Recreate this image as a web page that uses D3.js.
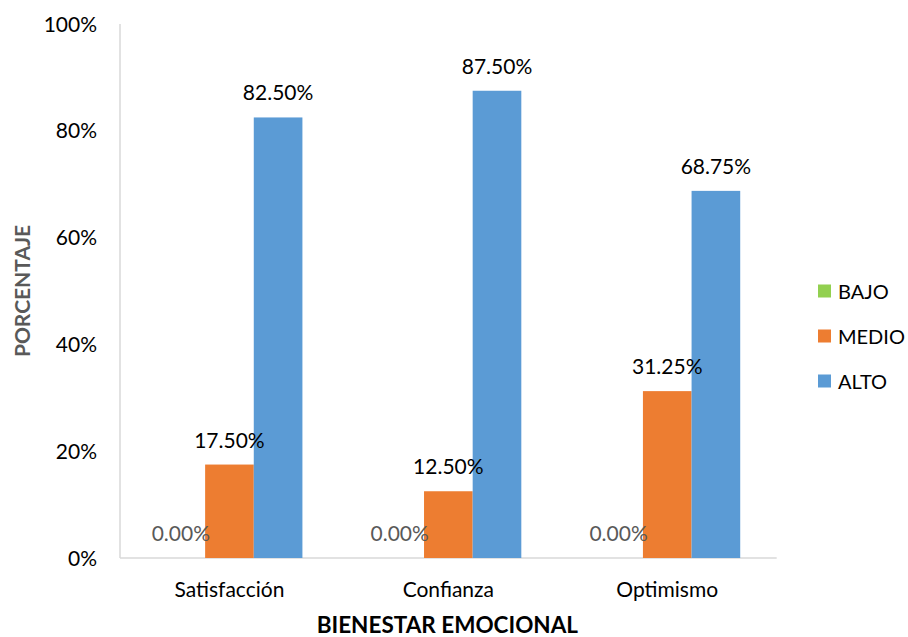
<!DOCTYPE html>
<html><head><meta charset="utf-8">
<script src="https://cdn.jsdelivr.net/npm/d3@7"></script>
<style>body{margin:0;background:#fff;} text{font-family:Lato,"Open Sans",sans-serif;}</style>
</head><body><svg id="c" width="908" height="637"></svg>
<script>
const categories = ["Satisfacción", "Confianza", "Optimismo"];
const seriesNames = ["BAJO", "MEDIO", "ALTO"];
const bajo = [0.0, 0.0, 0.0];
const medio = [0.175, 0.125, 0.3125];
const alto = [0.825, 0.875, 0.6875];
const yTicks = [0, 0.2, 0.4, 0.6, 0.8, 1.0];
const colors = ["#92D050", "#ED7D31", "#5B9BD5"];

const values = [bajo, medio, alto];
const svg = d3.select("#c");
const pLeft = 120, pRight = 776.7, pTop = 24, pBottom = 558;

const x0 = d3.scaleBand().domain(categories).range([pLeft, pRight]).padding(0);
const x1 = d3.scaleBand().domain(seriesNames).range([0, x0.bandwidth()]).paddingInner(0).paddingOuter(0.75);
const y = d3.scaleLinear().domain([0, 1]).range([pBottom, pTop]);
const fmt = d3.format(".2%");

// axes lines
svg.append("line").attr("x1", pLeft).attr("x2", pLeft).attr("y1", y(1)).attr("y2", pBottom)
  .attr("stroke", "#d9d9d9").attr("stroke-width", 1.5);
svg.append("line").attr("x1", pLeft).attr("x2", pRight).attr("y1", pBottom).attr("y2", pBottom)
  .attr("stroke", "#d9d9d9").attr("stroke-width", 1.5);

// y tick labels
svg.selectAll(".yt").data(yTicks).enter().append("text")
  .attr("x", 97).attr("y", d => y(d) + 7.5).attr("text-anchor", "end")
  .attr("font-size", 21).attr("fill", "#000").text(d => d3.format(".0%")(d));

// bars
const data = [];
categories.forEach((c, i) => seriesNames.forEach((s, j) => data.push({c, s, j, v: values[j][i]})));
svg.selectAll(".bar").data(data).enter().append("rect")
  .attr("x", d => x0(d.c) + x1(d.s)).attr("width", x1.bandwidth())
  .attr("y", d => y(d.v)).attr("height", d => pBottom - y(d.v))
  .attr("fill", d => colors[d.j]);

// value labels
svg.selectAll(".lbl").data(data).enter().append("text")
  .attr("x", d => x0(d.c) + x1(d.s) + x1.bandwidth() / 2)
  .attr("y", d => y(d.v) - 17)
  .attr("text-anchor", "middle").attr("font-size", 21)
  .attr("fill", d => d.v === 0 ? "#595959" : "#000")
  .text(d => fmt(d.v));

// category labels
svg.selectAll(".cat").data(categories).enter().append("text")
  .attr("x", d => x0(d) + x0.bandwidth() / 2).attr("y", 597)
  .attr("text-anchor", "middle").attr("font-size", 21).attr("fill", "#000").text(d => d);

// axis titles
svg.append("text").attr("x", (pLeft + pRight) / 2 - 1).attr("y", 633).attr("text-anchor", "middle")
  .attr("font-size", 22.5).attr("font-weight", "bold").attr("fill", "#000").text("BIENESTAR EMOCIONAL");
svg.append("text").attr("transform", `translate(30,${(pTop + pBottom) / 2}) rotate(-90)`)
  .attr("text-anchor", "middle").attr("font-size", 21).attr("font-weight", "bold")
  .attr("fill", "#595959").text("PORCENTAJE");

// legend
const lg = svg.selectAll(".lg").data(seriesNames).enter().append("g")
  .attr("transform", (d, i) => `translate(818,${291 + i * 45})`);
lg.append("rect").attr("x", 0).attr("y", -6.5).attr("width", 13).attr("height", 13)
  .attr("fill", (d, i) => colors[i]);
lg.append("text").attr("x", 20).attr("y", 7.5).attr("font-size", 20).attr("fill", "#000").text(d => d);
</script></body></html>
